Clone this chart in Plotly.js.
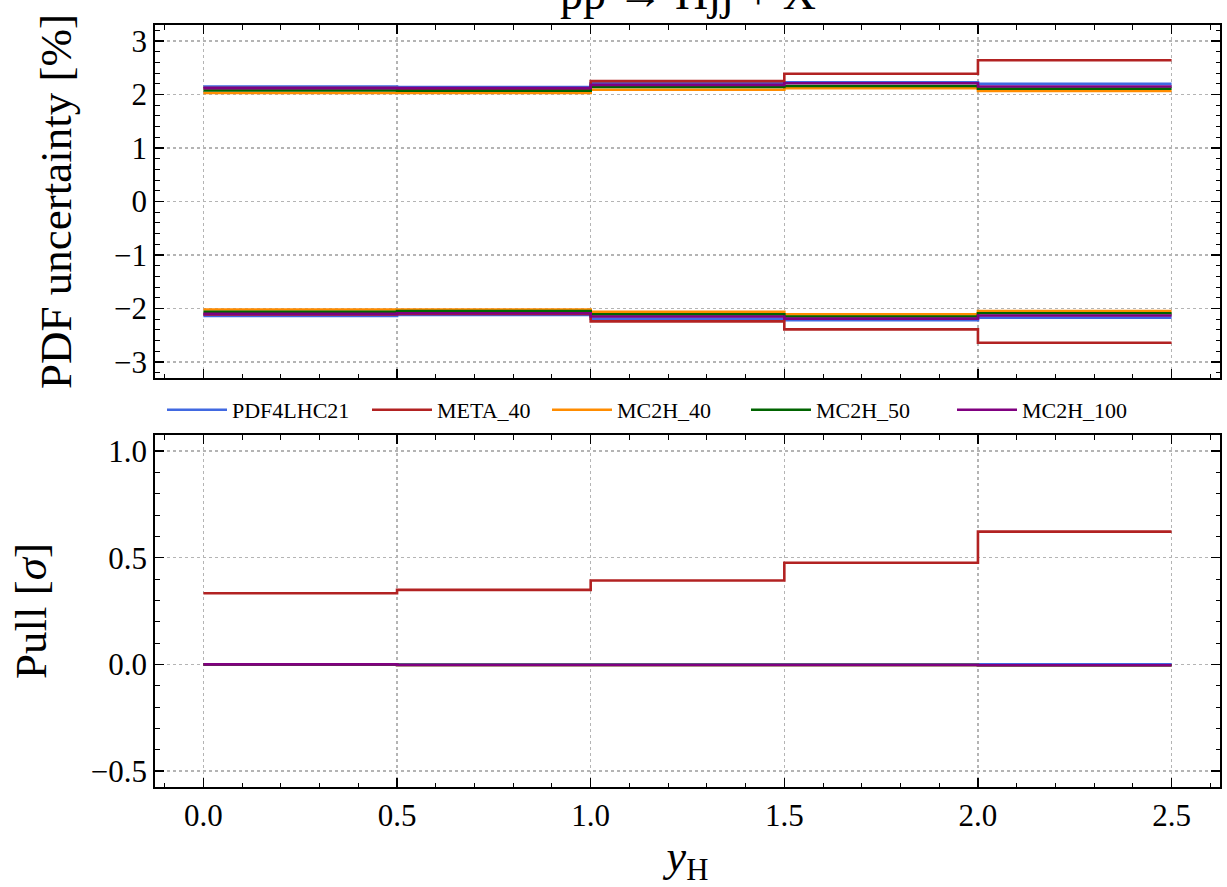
<!DOCTYPE html>
<html>
<head>
<meta charset="utf-8">
<script src="https://cdn.plot.ly/plotly-3.0.1.min.js"></script>
<style>html,body{margin:0;padding:0;background:#fff;}#chart{width:1227px;height:887px;}</style>
</head>
<body>
<div id="chart"></div>
<script>
// bin edges in y_H
const binEdges = [0.0, 0.5, 1.0, 1.5, 2.0, 2.5];
const setNames = ["PDF4LHC21", "META_40", "MC2H_40", "MC2H_50", "MC2H_100"];

// PDF uncertainty [%], upper and lower, per bin
const pdf4lhc21Up = [2.15, 2.14, 2.21, 2.23, 2.20];
const pdf4lhc21Dn = [-2.14, -2.12, -2.19, -2.22, -2.17];
const meta40Up = [2.12, 2.11, 2.25, 2.39, 2.64];
const meta40Dn = [-2.11, -2.10, -2.24, -2.39, -2.64];
const mc2h40Up = [2.03, 2.03, 2.09, 2.12, 2.065];
const mc2h40Dn = [-2.02, -2.02, -2.06, -2.11, -2.05];
const mc2h50Up = [2.075, 2.07, 2.14, 2.16, 2.11];
const mc2h50Dn = [-2.06, -2.05, -2.11, -2.15, -2.09];
const mc2h100Up = [2.12, 2.12, 2.18, 2.21, 2.15];
const mc2h100Dn = [-2.10, -2.09, -2.15, -2.19, -2.13];

// Pull [sigma] per bin
const pdf4lhc21Pull = [0.0, 0.0, 0.0, 0.0, 0.0];
const meta40Pull = [0.333, 0.349, 0.393, 0.476, 0.622];
const mc2h40Pull = [0.0, -0.003, -0.003, -0.003, -0.004];
const mc2h50Pull = [0.0, -0.003, -0.003, -0.003, -0.004];
const mc2h100Pull = [0.0, -0.003, -0.003, -0.003, -0.004];

const colors = ["#4169e1", "#b22222", "#ff8c00", "#006400", "#800080"];

const ups = [pdf4lhc21Up, meta40Up, mc2h40Up, mc2h50Up, mc2h100Up];
const dns = [pdf4lhc21Dn, meta40Dn, mc2h40Dn, mc2h50Dn, mc2h100Dn];
const pulls = [pdf4lhc21Pull, meta40Pull, mc2h40Pull, mc2h50Pull, mc2h100Pull];

function stepY(v) { return v.concat([v[v.length - 1]]); }

const legendIds = ['legend', 'legend2', 'legend3', 'legend4', 'legend5'];
const traces = [];
setNames.forEach((name, i) => {
  const line = {color: colors[i], width: 2.6, shape: 'hv'};
  traces.push({x: binEdges, y: stepY(ups[i]), mode: 'lines', line: line, name: name,
    legendgroup: name, showlegend: true, legend: legendIds[i], xaxis: 'x', yaxis: 'y', hoverinfo: 'skip'});
  traces.push({x: binEdges, y: stepY(dns[i]), mode: 'lines', line: line, name: name,
    legendgroup: name, showlegend: false, xaxis: 'x', yaxis: 'y', hoverinfo: 'skip'});
  traces.push({x: binEdges, y: stepY(pulls[i]), mode: 'lines', line: line, name: name,
    legendgroup: name, showlegend: false, xaxis: 'x2', yaxis: 'y2', hoverinfo: 'skip'});
});

const FONT = "Liberation Serif, Times New Roman, serif";
const common = {
  showline: true, linecolor: '#000', linewidth: 1.8, mirror: 'allticks',
  ticks: 'inside', ticklen: 9, tickwidth: 1.3, tickcolor: '#000',
  showgrid: true, gridcolor: '#b4b4b4', griddash: 'dot', gridwidth: 1.3,
  zeroline: false, tickfont: {family: FONT, size: 31, color: '#000'}
};
const minorTicks = (d) => ({dtick: d, ticks: 'inside', ticklen: 4.5, tickcolor: '#000', tickwidth: 1, showgrid: false});

// legend text start positions (px) -> paper x
const plotL = 155, plotW = 1065;
const legendTextPx = [232, 437, 617, 816, 1022];
const ITEMW = 60;

const layout = {
  width: 1227, height: 887,
  paper_bgcolor: '#fff', plot_bgcolor: '#fff',
  margin: {l: 155, r: 7, t: 25, b: 100},
  font: {family: FONT, color: '#000'},
  showlegend: true,
  xaxis: Object.assign({}, common, {domain: [0, 1], range: [-0.125, 2.625], dtick: 0.5,
    tick0: 0, showticklabels: false, anchor: 'y', matches: 'x2', minor: minorTicks(0.1)}),
  yaxis: Object.assign({}, common, {domain: [0.5367, 1], range: [-3.3, 3.3], dtick: 1, tick0: 0,
    anchor: 'x', tickformat: 'd', minor: minorTicks(0.2),
    title: {text: 'PDF uncertainty [%]', font: {family: FONT, size: 45, color: '#000'}, standoff: 28}}),
  xaxis2: Object.assign({}, common, {domain: [0, 1], range: [-0.125, 2.625], dtick: 0.5, tick0: 0,
    anchor: 'y2', tickformat: '.1f', minor: minorTicks(0.1),
    title: {text: '<i>y</i><sub>H</sub>', font: {family: FONT, size: 44, color: '#000'}, standoff: 8}}),
  yaxis2: Object.assign({}, common, {domain: [0, 0.4619], range: [-0.575, 1.075], dtick: 0.5, tick0: 0,
    anchor: 'x2', tickformat: '.1f', minor: minorTicks(0.1),
    title: {text: 'Pull [<i>σ</i>]', font: {family: FONT, size: 45, color: '#000'}, standoff: 30}}),
  annotations: [{text: 'pp → Hjj + X', xref: 'paper', yref: 'paper', x: 0.5, y: 1, xanchor: 'center',
    yanchor: 'bottom', yshift: 4, showarrow: false, font: {family: FONT, size: 46, color: '#000'}}]
};

legendIds.forEach((id, i) => {
  layout[id] = {orientation: 'h', x: (legendTextPx[i] - (ITEMW + 10) - plotL) / plotW, xanchor: 'left',
    y: 0.4948, yanchor: 'middle', font: {family: FONT, size: 22, color: '#000'},
    bgcolor: 'rgba(0,0,0,0)', itemwidth: ITEMW, borderwidth: 0};
});

Plotly.newPlot('chart', traces, layout, {staticPlot: true, displayModeBar: false});
</script>
</body>
</html>
